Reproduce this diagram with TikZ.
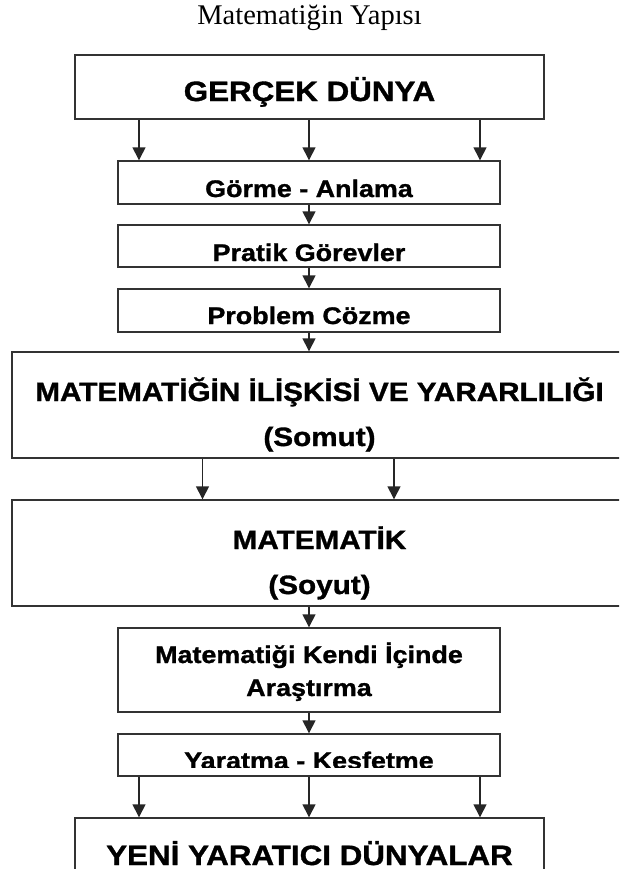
\documentclass[tikz,border=0pt]{standalone}
\usepackage{fontspec}
\setmainfont{Liberation Serif}
\newfontfamily\boxfont[FakeStretch=1.12,FakeBold=1.2]{Liberation Sans}
\usetikzlibrary{arrows.meta}
\begin{document}
\begin{tikzpicture}[x=1pt, y=-1pt, line width=1.4pt,
	box/.style={draw=black!80, inner sep=0pt},
	bigtxt/.style={anchor=base, inner sep=0pt, font=\boxfont\bfseries\fontsize{28}{32}\selectfont},
	midtxt/.style={anchor=base, inner sep=0pt, font=\boxfont\bfseries\fontsize{26.5}{30}\selectfont},
	smalltxt/.style={anchor=base, inner sep=0pt, font=\boxfont\bfseries\fontsize{24}{28}\selectfont},
	arr/.style={draw=black!85, -{Triangle[width=13pt,length=13pt]}}]
	\useasboundingbox (0,0) rectangle (619,875);
	\clip (0,0) rectangle (619,868);
	\node[anchor=base, inner sep=0pt, font=\fontsize{28.5}{32}\selectfont] (title) at (309.5,25) {Matematiğin Yapısı};
	\node[box, minimum width=469, minimum height=64] (gercek) at (309.5,87) {};
	\foreach \n/\y/\h in {gorme/182.5/43, pratik/246/42, problem/310.5/43, arastir/670/84, yarat/755/42}{%
		\node[box, minimum width=382, minimum height=\h] (\n) at (309,\y) {};
	}
	\node[box, minimum width=615, minimum height=106] (iliski) at (319.5,405) {};
	\node[box, minimum width=615, minimum height=106] (matematik) at (319.5,553) {};
	\node[box, minimum width=469, minimum height=100] (yeni) at (309.5,868) {};
	\node[bigtxt] (gercek-t) at (309.5,101) {GERÇEK DÜNYA};
	\foreach \n/\y/\t in {gorme/197/Görme - Anlama, pratik/261/Pratik Görevler, problem/324/Problem Cözme, arastir-a/663/Matematiği Kendi İçinde, arastir-b/696/Araştırma}{%
		\node[smalltxt] (\n-t) at (309,\y) {\t};
	}
	\node[midtxt] (iliski-a) at (319.5,401) {MATEMATİĞİN İLİŞKİSİ VE YARARLILIĞI};
	\node[midtxt] (iliski-b) at (319.5,446) {(Somut)};
	\node[midtxt] (matematik-a) at (319.5,549) {MATEMATİK};
	\node[midtxt] (matematik-b) at (319.5,594) {(Soyut)};
	\begin{scope}
		\clip (yarat.north west) rectangle ([yshift=9pt]yarat.south east);
		\node[smalltxt] (yarat-t) at (309,769) {Yaratma - Kesfetme};
	\end{scope}
	\node[bigtxt] (yeni-t) at (309.5,865) {YENİ YARATICI DÜNYALAR};
	\foreach \x in {139,309,480}{%
		\draw[arr] (gercek.south -| \x,0) -- (gorme.north -| \x,0);
		\draw[arr] (yarat.south -| \x,0) -- (yeni.north -| \x,0);
	}
	\foreach \a/\b in {gorme/pratik, pratik/problem, problem/iliski, matematik/arastir, arastir/yarat}{%
		\draw[arr] (\a.south -| 309,0) -- (\b.north -| 309,0);
	}
	\foreach \x in {202.5,394}{%
		\draw[arr] (iliski.south -| \x,0) -- (matematik.north -| \x,0);
	}
\end{tikzpicture}
\end{document}
